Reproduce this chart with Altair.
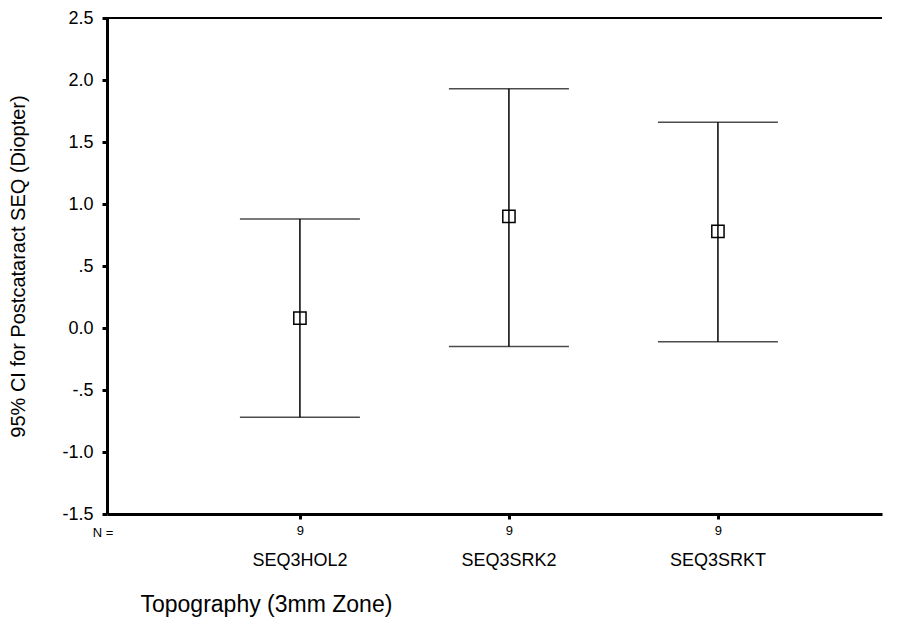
import altair as alt
import pandas as pd

categories = ["SEQ3HOL2", "SEQ3SRK2", "SEQ3SRKT"]
positions = [1, 2, 3]
means = [0.08, 0.90, 0.78]
upper = [0.88, 1.93, 1.66]
lower = [-0.72, -0.15, -0.11]
n_values = [9, 9, 9]
y_ticks = [-1.5, -1.0, -0.5, 0.0, 0.5, 1.0, 1.5, 2.0, 2.5]
y_tick_labels = ["-1.5", "-1.0", "-.5", "0.0", ".5", "1.0", "1.5", "2.0", "2.5"]

W, H = 775, 496
FONT = "Liberation Sans"

df = pd.DataFrame({"pos": positions, "cat": categories, "mean": means,
                   "upper": upper, "lower": lower, "n": n_values})

y_label_expr = " : ".join(
    [f"datum.value == {v} ? '{l}'" for v, l in zip(y_ticks, y_tick_labels)]) + " : ''"
x_label_expr = " : ".join(
    [f"datum.value == {p} ? '{n}'" for p, n in zip(positions, n_values)]) + " : ''"

xscale = alt.Scale(domain=[0.077, 3.785], nice=False, zero=False)
yscale = alt.Scale(domain=[-1.5, 2.5], nice=False, zero=False)

x_enc = alt.X("pos:Q", scale=xscale, axis=alt.Axis(
    values=positions, labelExpr=x_label_expr, grid=False,
    domainColor="black", domainWidth=3, tickColor="black", tickWidth=3, tickSize=5,
    labelFontSize=13, labelFont=FONT, labelColor="black", labelPadding=5,
    title="Topography (3mm Zone)", titleFont=FONT, titleFontSize=23,
    titleFontWeight="normal", titleColor="black", titleAnchor="start",
    titleAlign="left", titleX=33, titleY=90, titleBaseline="middle"))
y_enc = alt.Y("mean:Q", scale=yscale, axis=alt.Axis(
    values=y_ticks, labelExpr=y_label_expr, grid=False,
    domainColor="black", domainWidth=3, tickColor="black", tickWidth=3, tickSize=5,
    labelFontSize=18, labelFont=FONT, labelColor="black", labelPadding=9,
    title="95% CI for Postcataract SEQ (Diopter)", titleFont=FONT, titleFontSize=20,
    titleFontWeight="normal", titleColor="black", titleX=-89, titleBaseline="middle"))

base = alt.Chart(df)

vlines = base.mark_rule(color="black", strokeWidth=1.5).encode(
    x=x_enc, y=alt.Y("lower:Q", scale=yscale), y2="upper:Q")
top_caps = base.mark_tick(orient="horizontal", size=120, thickness=1.5, color="black").encode(
    x=alt.X("pos:Q", scale=xscale), y=alt.Y("upper:Q", scale=yscale))
bot_caps = base.mark_tick(orient="horizontal", size=120, thickness=1.5, color="black").encode(
    x=alt.X("pos:Q", scale=xscale), y=alt.Y("lower:Q", scale=yscale))
points = base.mark_point(shape="square", size=150, filled=False, color="black",
                         strokeWidth=1.5, opacity=1).encode(x=alt.X("pos:Q", scale=xscale), y=y_enc)
cat_labels = base.mark_text(font=FONT, fontSize=18, color="black", baseline="middle").encode(
    x=alt.X("pos:Q", scale=xscale), y=alt.value(H + 47), text="cat:N")
n_label = alt.Chart(pd.DataFrame({"t": ["N ="]})).mark_text(
    font=FONT, fontSize=13, color="black", baseline="middle").encode(
    x=alt.value(-4), y=alt.value(H + 19), text="t:N")
top_line = alt.Chart(pd.DataFrame({"y": [y_ticks[-1]]})).mark_rule(
    color="black", strokeWidth=2).encode(
    y=alt.Y("y:Q", scale=yscale), x=alt.value(0), x2=alt.value(W))

chart = alt.layer(vlines, top_caps, bot_caps, points, cat_labels, n_label, top_line).properties(
    width=W, height=H,
    autosize=alt.AutoSizeParams(type="none"),
    padding={"left": 99, "top": 10, "right": 8, "bottom": 110},
    background="white",
).configure_view(stroke=None)

chart.save("out.html", embed_options={"renderer": "svg", "actions": False})
